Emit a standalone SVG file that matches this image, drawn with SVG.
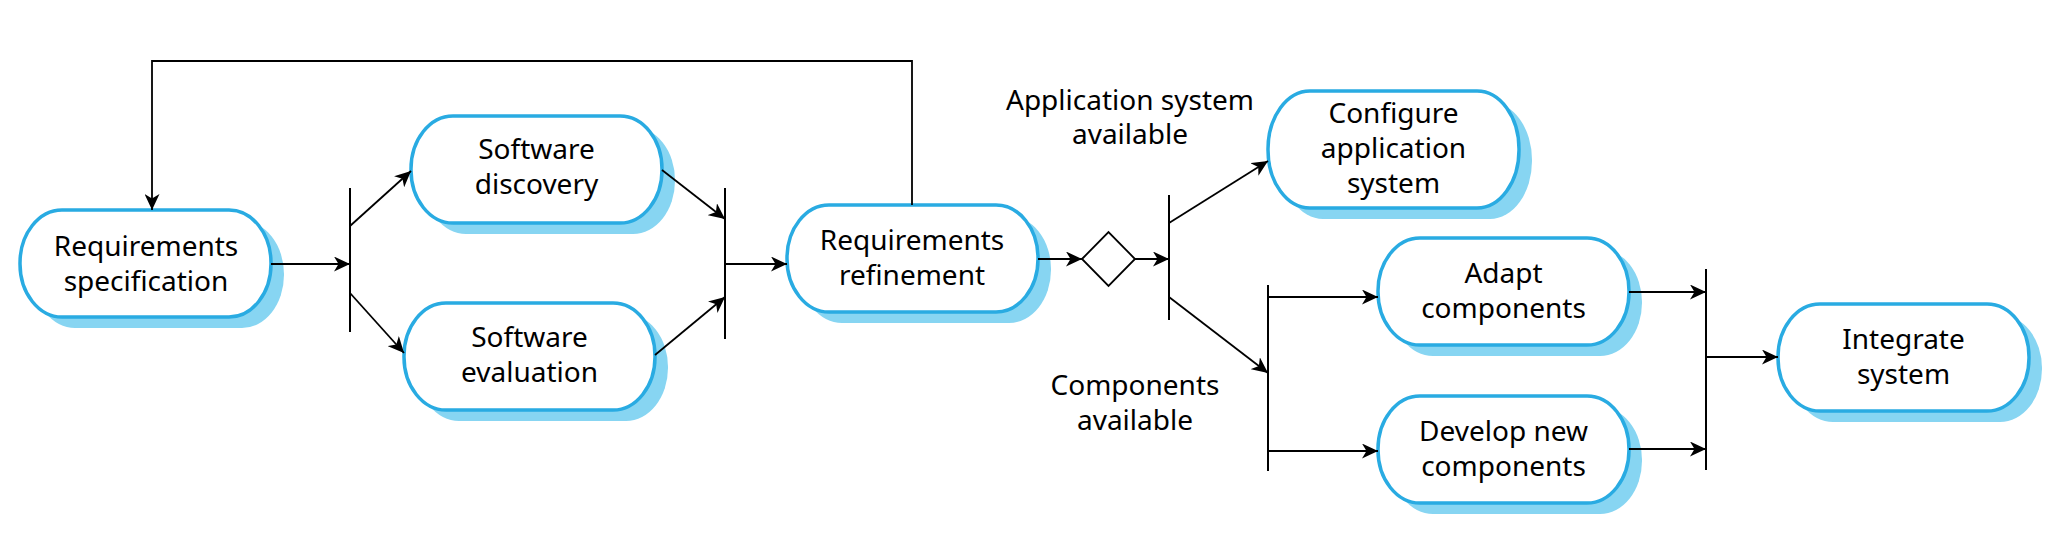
<svg xmlns="http://www.w3.org/2000/svg" width="2052" height="542" viewBox="0 0 2052 542">
<style>
.shadow{fill:#87d5f2;stroke:none}
.node{fill:#ffffff;stroke:#29abe2;stroke-width:3.5}
.t{font-family:"Noto Sans","Liberation Sans",sans-serif;font-size:28px;fill:#000;text-anchor:middle}
.c{fill:none;stroke:#000;stroke-width:1.8}
.bar{fill:none;stroke:#000;stroke-width:2}
</style>
<defs>
<marker id="ah" markerUnits="userSpaceOnUse" markerWidth="17" markerHeight="15" refX="16" refY="7.5" orient="auto">
<path d="M0,0 L16,7.5 L0,15 L4.5,7.5 z" fill="#000"/>
</marker>
</defs>
<rect width="2052" height="542" fill="#fff"/>
<g id="n-reqspec">
<rect class="shadow" x="33" y="221" width="251" height="107" rx="42" ry="53"/>
<rect class="node" x="20" y="210" width="251" height="107" rx="42" ry="53"/>
<text class="t" x="146" y="256">Requirements</text>
<text class="t" x="146" y="291">specification</text>
</g>
<g id="n-discovery">
<rect class="shadow" x="424" y="127" width="251" height="107" rx="42" ry="53"/>
<rect class="node" x="411" y="116" width="251" height="107" rx="42" ry="53"/>
<text class="t" x="536.5" y="159">Software</text>
<text class="t" x="536.5" y="194">discovery</text>
</g>
<g id="n-evaluation">
<rect class="shadow" x="417" y="314" width="251" height="107" rx="42" ry="53"/>
<rect class="node" x="404" y="303" width="251" height="107" rx="42" ry="53"/>
<text class="t" x="529.5" y="347">Software</text>
<text class="t" x="529.5" y="382">evaluation</text>
</g>
<g id="n-refinement">
<rect class="shadow" x="800" y="216" width="251" height="107" rx="42" ry="53"/>
<rect class="node" x="787" y="205" width="251" height="107" rx="42" ry="53"/>
<text class="t" x="912" y="250">Requirements</text>
<text class="t" x="912" y="285">refinement</text>
</g>
<g id="n-configure">
<rect class="shadow" x="1281" y="102" width="251" height="117" rx="42" ry="58"/>
<rect class="node" x="1268" y="91" width="251" height="117" rx="42" ry="58"/>
<text class="t" x="1393.5" y="123">Configure</text>
<text class="t" x="1393.5" y="158">application</text>
<text class="t" x="1393.5" y="193">system</text>
</g>
<g id="n-adapt">
<rect class="shadow" x="1391" y="249" width="251" height="107" rx="42" ry="53"/>
<rect class="node" x="1378" y="238" width="251" height="107" rx="42" ry="53"/>
<text class="t" x="1503.5" y="283">Adapt</text>
<text class="t" x="1503.5" y="318">components</text>
</g>
<g id="n-develop">
<rect class="shadow" x="1391" y="407" width="251" height="107" rx="42" ry="53"/>
<rect class="node" x="1378" y="396" width="251" height="107" rx="42" ry="53"/>
<text class="t" x="1503.5" y="441">Develop new</text>
<text class="t" x="1503.5" y="476">components</text>
</g>
<g id="n-integrate">
<rect class="shadow" x="1791" y="315" width="251" height="107" rx="42" ry="53"/>
<rect class="node" x="1778" y="304" width="251" height="107" rx="42" ry="53"/>
<text class="t" x="1903.5" y="349">Integrate</text>
<text class="t" x="1903.5" y="384">system</text>
</g>
<g id="n-decision">
<polygon points="1082,259 1108.5,232 1135,259 1108.5,286" fill="#fff" stroke="#000" stroke-width="1.8"/>
</g>
<g id="labels">
<text class="t" x="1130" y="110">Application system</text>
<text class="t" x="1130" y="144">available</text>
<text class="t" x="1135" y="395">Components</text>
<text class="t" x="1135" y="430">available</text>
</g>
<g id="connectors">
<path class="c" d="M912,205 V61 H152 V210" marker-end="url(#ah)"/>
<path class="c" d="M271,264 H350" marker-end="url(#ah)"/>
<path class="bar" d="M350,188 V332"/>
<path class="c" d="M350,226 L411,171" marker-end="url(#ah)"/>
<path class="c" d="M350,293 L404,353" marker-end="url(#ah)"/>
<path class="c" d="M662,170 L725,219" marker-end="url(#ah)"/>
<path class="c" d="M655,355 L725,297" marker-end="url(#ah)"/>
<path class="bar" d="M725,188 V339"/>
<path class="c" d="M725,264 H787" marker-end="url(#ah)"/>
<path class="c" d="M1038,259 H1082" marker-end="url(#ah)"/>
<path class="c" d="M1135,259 H1169" marker-end="url(#ah)"/>
<path class="bar" d="M1169,195 V320"/>
<path class="c" d="M1169,223 L1268,161" marker-end="url(#ah)"/>
<path class="c" d="M1169,297 L1268,373" marker-end="url(#ah)"/>
<path class="bar" d="M1268,285 V471"/>
<path class="c" d="M1268,297 H1378" marker-end="url(#ah)"/>
<path class="c" d="M1268,451 H1378" marker-end="url(#ah)"/>
<path class="c" d="M1629,292 H1706" marker-end="url(#ah)"/>
<path class="c" d="M1629,449 H1706" marker-end="url(#ah)"/>
<path class="bar" d="M1706,269 V470"/>
<path class="c" d="M1706,357 H1778" marker-end="url(#ah)"/>
</g>
</svg>
